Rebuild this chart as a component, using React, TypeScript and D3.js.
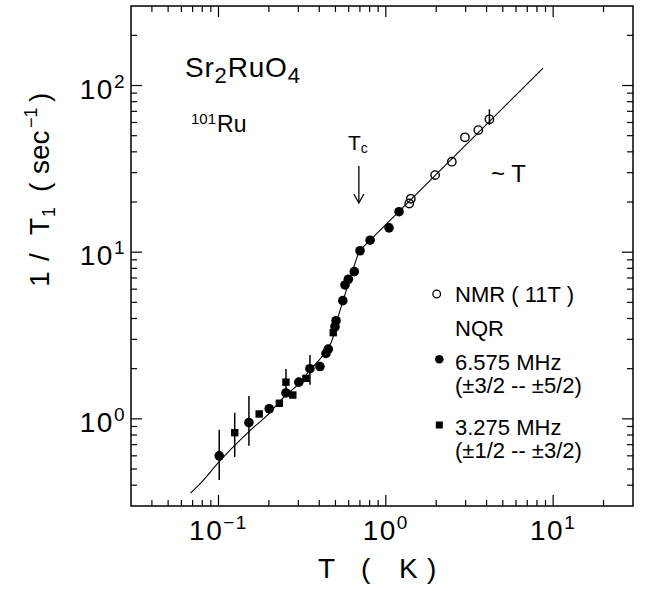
import React from "react";
import * as d3 from "d3";

// ---- data ----
// NMR (11 T), open circles
const nmrT = [1.38, 1.41, 1.97, 2.48, 2.97, 3.57, 4.16];
const nmrV = [19.6, 20.9, 29.0, 34.9, 48.9, 54.0, 62.7];
const nmrErrT = [4.16];
const nmrErrLo = [58];
const nmrErrHi = [72];

// NQR 6.575 MHz, filled circles
const nqrAT = [0.101, 0.152, 0.201, 0.253, 0.302, 0.352, 0.404, 0.439, 0.453, 0.497, 0.504, 0.553, 0.570, 0.597, 0.648, 0.701, 0.805, 1.045, 1.20];
const nqrAV = [0.60, 0.95, 1.15, 1.43, 1.66, 2.0, 2.06, 2.47, 2.62, 3.57, 3.88, 5.12, 6.36, 6.88, 7.64, 10.2, 11.8, 14.0, 17.5];
const nqrAErrT = [0.101, 0.152, 0.352];
const nqrAErrLo = [0.43, 0.69, 1.60];
const nqrAErrHi = [0.86, 1.37, 2.42];

// NQR 3.275 MHz, filled squares
const nqrBT = [0.125, 0.175, 0.231, 0.253, 0.278, 0.333, 0.485];
const nqrBV = [0.826, 1.07, 1.24, 1.66, 1.39, 1.75, 3.29];
const nqrBErrT = [0.125, 0.253];
const nqrBErrLo = [0.59, 1.39];
const nqrBErrHi = [1.09, 1.99];

// guide curve (smooth part below Tc, then straight ~T part)
const fitLowT = [0.068, 0.0775, 0.101, 0.152, 0.201, 0.253, 0.302, 0.352, 0.44, 0.485, 0.50, 0.553, 0.616, 0.69];
const fitLowV = [0.358, 0.407, 0.554, 0.838, 1.08, 1.39, 1.62, 1.96, 2.57, 3.11, 3.57, 5.05, 7.13, 10.1];
const fitHighT = [0.69, 8.7];
const fitHighV = [10.1, 127];

const Tc = 0.69;
const xDomain = [0.03, 30];
const yDomain = [0.3, 300];
const xTickExps = [-1, 0, 1];
const yTickExps = [0, 1, 2];

const FONT = "'Liberation Sans', Arial, Helvetica, sans-serif";

function logTicks(lo: number, hi: number) {
  const out: { v: number; major: boolean }[] = [];
  for (let d = Math.floor(Math.log10(lo)); d <= Math.ceil(Math.log10(hi)); d++) {
    for (let m = 1; m <= 9; m++) {
      const v = m * Math.pow(10, d);
      if (v > lo * 1.0001 && v < hi * 0.9999) out.push({ v, major: m === 1 });
    }
  }
  return out;
}

export default function App() {
  const L = 131, R = 633, T = 6, B = 506;
  const x = d3.scaleLog().domain(xDomain).range([L, R]);
  const y = d3.scaleLog().domain(yDomain).range([B, T]);
  const majLen = 11, minLen = 6;

  const xt = logTicks(xDomain[0], xDomain[1]);
  const yt = logTicks(yDomain[0], yDomain[1]);

  const fitLow = fitLowT.map((t, i) => [t, fitLowV[i]] as [number, number]);
  const fitHigh = fitHighT.map((t, i) => [t, fitHighV[i]] as [number, number]);
  const smooth = d3
    .line<[number, number]>()
    .x((d) => x(d[0]))
    .y((d) => y(d[1]))
    .curve(d3.curveMonotoneX);
  const straight = d3
    .line<[number, number]>()
    .x((d) => x(d[0]))
    .y((d) => y(d[1]));

  const sq = 7.4;
  const rA = 4.8;
  const rN = 4.2;

  const errLines = (ts: number[], lo: number[], hi: number[], key: string) =>
    ts.map((t, i) => (
      <line key={key + i} x1={x(t)} x2={x(t)} y1={y(lo[i])} y2={y(hi[i])} stroke="#000" strokeWidth={1.5} />
    ));

  const tcX = x(Tc);

  return (
    <svg
      width={646}
      height={591}
      style={{ position: "absolute", left: 0, top: 0, display: "block", background: "#fff" }}
      fontFamily={FONT}
    >
      <rect x={0} y={0} width={646} height={591} fill="#fff" />
      {/* frame */}
      <rect x={L} y={T} width={R - L} height={B - T} fill="none" stroke="#000" strokeWidth={1.5} />
      {/* ticks */}
      {xt.map((t, i) => {
        const len = t.major ? majLen : minLen;
        const xx = x(t.v);
        return (
          <g key={"xt" + i}>
            <line x1={xx} x2={xx} y1={B} y2={B - len} stroke="#000" strokeWidth={1.2} />
            <line x1={xx} x2={xx} y1={T} y2={T + len} stroke="#000" strokeWidth={1.2} />
          </g>
        );
      })}
      {yt.map((t, i) => {
        const len = t.major ? majLen : minLen;
        const yy = y(t.v);
        return (
          <g key={"yt" + i}>
            <line x1={L} x2={L + len} y1={yy} y2={yy} stroke="#000" strokeWidth={1.2} />
            <line x1={R} x2={R - len} y1={yy} y2={yy} stroke="#000" strokeWidth={1.2} />
          </g>
        );
      })}
      {/* tick labels */}
      {xTickExps.map((e) => (
        <text key={"xl" + e} x={x(Math.pow(10, e))} y={540} textAnchor="middle" fontSize={28} letterSpacing={1.5}>
          10
          <tspan fontSize={19} dy={-11}>
            {e < 0 ? "\u2212" + Math.abs(e) : String(e)}
          </tspan>
        </text>
      ))}
      {yTickExps.map((e) => (
        <text key={"yl" + e} x={126} y={y(Math.pow(10, e)) + 13} textAnchor="end" fontSize={28} letterSpacing={1.5}>
          10
          <tspan fontSize={19} dy={-11}>
            {String(e)}
          </tspan>
        </text>
      ))}
      {/* axis titles */}
      <text y={578} fontSize={28}>
        <tspan x={318}>T</tspan>
        <tspan x={361}>(</tspan>
        <tspan x={399}>K</tspan>
        <tspan x={427}>)</tspan>
      </text>
      <text transform="rotate(-90)" y={49} fontSize={28}>
        <tspan x={-287}>1</tspan>
        <tspan x={-261}>/</tspan>
        <tspan x={-235}>T</tspan>
        <tspan x={-217} y={55} fontSize={18}>1</tspan>
        <tspan x={-192} y={49}>(</tspan>
        <tspan x={-174}>sec</tspan>
        <tspan x={-128} y={37} fontSize={18}>{"\u22121"}</tspan>
        <tspan x={-102} y={49}>)</tspan>
      </text>
      {/* guide curve */}
      <path d={smooth(fitLow) || ""} fill="none" stroke="#000" strokeWidth={1.1} />
      <path d={straight(fitHigh) || ""} fill="none" stroke="#000" strokeWidth={1.1} />
      {/* error bars */}
      {errLines(nqrAErrT, nqrAErrLo, nqrAErrHi, "ea")}
      {errLines(nqrBErrT, nqrBErrLo, nqrBErrHi, "eb")}
      {errLines(nmrErrT, nmrErrLo, nmrErrHi, "en")}
      {/* data */}
      {nqrBT.map((t, i) => (
        <rect key={"b" + i} x={x(t) - sq / 2} y={y(nqrBV[i]) - sq / 2} width={sq} height={sq} fill="#000" />
      ))}
      {nqrAT.map((t, i) => (
        <circle key={"a" + i} cx={x(t)} cy={y(nqrAV[i])} r={rA} fill="#000" />
      ))}
      {nmrT.map((t, i) => (
        <circle key={"n" + i} cx={x(t)} cy={y(nmrV[i])} r={rN} fill="none" stroke="#000" strokeWidth={1.4} />
      ))}
      {/* labels */}
      <text x={185} y={77} fontSize={28} letterSpacing={0.8}>
        Sr<tspan fontSize={22} dy={6}>2</tspan>
        <tspan dy={-6}>RuO</tspan>
        <tspan fontSize={22} dy={6}>4</tspan>
      </text>
      <text x={191} y={124} fontSize={15}>
        101<tspan fontSize={23} dy={8} dx={1}>Ru</tspan>
      </text>
      <text x={348} y={150} fontSize={21}>
        T<tspan fontSize={14} dy={3}>c</tspan>
      </text>
      <line x1={tcX} x2={tcX} y1={166} y2={203} stroke="#000" strokeWidth={1.3} />
      <path d={`M${tcX - 5},${194} L${tcX},${203} L${tcX + 5},${194}`} fill="none" stroke="#000" strokeWidth={1.3} />
      <text x={491} y={182} fontSize={24}>
        ~ T
      </text>
      {/* legend */}
      <circle cx={436.7} cy={294} r={3.8} fill="none" stroke="#000" strokeWidth={1.3} />
      <text x={455} y={302} fontSize={22}>NMR ( 11T )</text>
      <text x={455} y={336} fontSize={22}>NQR</text>
      <circle cx={439.3} cy={359.3} r={4.3} fill="#000" />
      <text x={455} y={370} fontSize={22}>6.575 MHz</text>
      <text x={455} y={393} fontSize={22}>(±3/2 -- ±5/2)</text>
      <rect x={439.3 - 3.5} y={425 - 3.5} width={7} height={7} fill="#000" />
      <text x={455} y={435} fontSize={22}>3.275 MHz</text>
      <text x={455} y={458} fontSize={22}>(±1/2 -- ±3/2)</text>
    </svg>
  );
}
